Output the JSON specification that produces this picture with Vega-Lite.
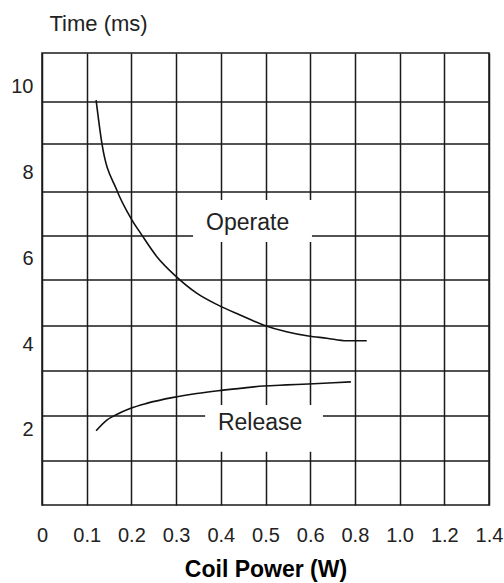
{
  "$schema": "https://vega.github.io/schema/vega-lite/v6.json",
  "width": 447,
  "height": 452,
  "autosize": "none",
  "padding": {"left": 42, "top": 53, "right": 15, "bottom": 78},
  "background": "white",
  "config": {
    "view": {"stroke": "#1a1a1a", "strokeWidth": 1.5},
    "font": "Liberation Sans"
  },
  "datasets": {
    "curves": [
      {"series": "Operate", "power": 0.121, "time": 9.69},
      {"series": "Operate", "power": 0.134, "time": 8.68},
      {"series": "Operate", "power": 0.167, "time": 7.6},
      {"series": "Operate", "power": 0.201, "time": 6.9},
      {"series": "Operate", "power": 0.223, "time": 6.55},
      {"series": "Operate", "power": 0.257, "time": 6.04},
      {"series": "Operate", "power": 0.301, "time": 5.57},
      {"series": "Operate", "power": 0.346, "time": 5.19},
      {"series": "Operate", "power": 0.394, "time": 4.91},
      {"series": "Operate", "power": 0.443, "time": 4.68},
      {"series": "Operate", "power": 0.495, "time": 4.45},
      {"series": "Operate", "power": 0.547, "time": 4.29},
      {"series": "Operate", "power": 0.596, "time": 4.19},
      {"series": "Operate", "power": 0.674, "time": 4.14},
      {"series": "Operate", "power": 0.763, "time": 4.08},
      {"series": "Operate", "power": 0.853, "time": 4.08},
      {"series": "Release", "power": 0.121, "time": 1.98},
      {"series": "Release", "power": 0.145, "time": 2.23},
      {"series": "Release", "power": 0.167, "time": 2.36},
      {"series": "Release", "power": 0.197, "time": 2.5},
      {"series": "Release", "power": 0.234, "time": 2.62},
      {"series": "Release", "power": 0.294, "time": 2.76},
      {"series": "Release", "power": 0.346, "time": 2.85},
      {"series": "Release", "power": 0.394, "time": 2.915},
      {"series": "Release", "power": 0.443, "time": 2.97},
      {"series": "Release", "power": 0.495, "time": 3.025},
      {"series": "Release", "power": 0.547, "time": 3.05},
      {"series": "Release", "power": 0.596, "time": 3.07},
      {"series": "Release", "power": 0.704, "time": 3.1},
      {"series": "Release", "power": 0.782, "time": 3.12}
    ],
    "hgrid": [
      {"t": 9.647}, {"t": 8.668}, {"t": 7.549}, {"t": 6.523}, {"t": 5.496},
      {"t": 4.424}, {"t": 3.374}, {"t": 2.325}, {"t": 1.275}
    ],
    "labels": [
      {"label": "Operate", "px": 0.46, "ty": 6.83, "x1": 0.338, "x2": 0.608, "y1": 7.36, "y2": 6.38},
      {"label": "Release", "px": 0.488, "ty": 2.17, "x1": 0.365, "x2": 0.657, "y1": 2.58, "y2": 1.49}
    ]
  },
  "layer": [
    {
      "data": {"name": "hgrid"},
      "mark": {"type": "rule", "color": "#1a1a1a", "strokeWidth": 1.5},
      "encoding": {
        "y": {"field": "t", "type": "quantitative", "scale": {"domain": [0.25, 10.79], "nice": false, "zero": false}}
      }
    },
    {
      "data": {"name": "labels"},
      "mark": {"type": "rect", "fill": "white", "stroke": null},
      "encoding": {
        "x": {"field": "x1", "type": "quantitative"},
        "x2": {"field": "x2"},
        "y": {"field": "y1", "type": "quantitative"},
        "y2": {"field": "y2"}
      }
    },
    {
      "data": {"name": "curves"},
      "mark": {"type": "line", "color": "#111", "strokeWidth": 1.6, "interpolate": "monotone"},
      "encoding": {
        "x": {
          "field": "power", "type": "quantitative",
          "scale": {"domain": [0, 0.6, 1.4], "range": [0, 268.2, 447], "nice": false, "zero": false},
          "axis": {
            "title": "Coil Power (W)",
            "values": [0, 0.1, 0.2, 0.3, 0.4, 0.5, 0.6, 0.8, 1.0, 1.2, 1.4],
            "labelExpr": "datum.value == 0 ? '0' : format(datum.value, '.1f')",
            "grid": true, "gridColor": "#1a1a1a", "gridWidth": 1.5, "gridOpacity": 1,
            "ticks": false, "domain": false,
            "labelPadding": 20, "labelFontSize": 20, "labelColor": "#222", "labelOverlap": false,
            "labelFlush": false, "labelBound": false,
            "labelFont": "Liberation Sans",
            "titleFont": "Liberation Sans", "titleFontSize": 23, "titleFontWeight": "bold", "titleColor": "#000",
            "titleY": 64, "titleBaseline": "middle"
          }
        },
        "y": {
          "field": "time", "type": "quantitative",
          "scale": {"domain": [0.25, 10.79], "nice": false, "zero": false},
          "axis": {
            "title": "Time (ms)",
            "values": [2, 4, 6, 8, 10],
            "grid": false, "ticks": false, "domain": false,
            "labelPadding": 9, "labelFontSize": 20, "labelColor": "#222",
            "labelFlush": false,
            "labelFont": "Liberation Sans",
            "titleFont": "Liberation Sans", "titleFontSize": 22, "titleFontWeight": "normal", "titleColor": "#222",
            "titleAngle": 0, "titleX": 7, "titleY": -30, "titleAlign": "left", "titleBaseline": "middle"
          }
        },
        "detail": {"field": "series"}
      }
    },
    {
      "data": {"name": "labels"},
      "mark": {"type": "text", "fontSize": 23, "font": "Liberation Sans", "color": "#222", "align": "center", "baseline": "middle"},
      "encoding": {
        "x": {"field": "px", "type": "quantitative"},
        "y": {"field": "ty", "type": "quantitative"},
        "text": {"field": "label"}
      }
    }
  ]
}
